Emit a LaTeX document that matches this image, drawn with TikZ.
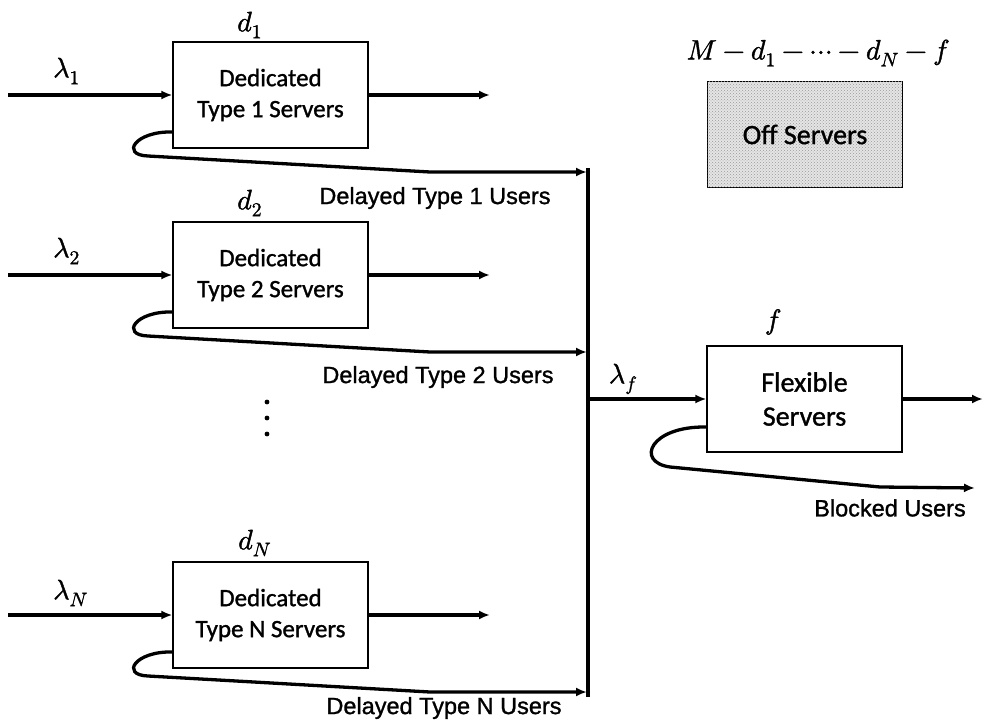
\documentclass[tikz,border=0pt]{standalone}
\usepackage{fontspec}
\usepackage{unicode-math}
\setmainfont{Carlito}[FakeBold=1.2]
\setmathfont{Latin Modern Math}[FakeBold=1.4]
\newfontfamily\arialf{Liberation Sans}[FakeBold=1.2]
\usetikzlibrary{arrows.meta,calc,patterns}
\begin{document}
\begin{tikzpicture}[x=1pt,y=-1pt,
  thk/.style={line width=3.3pt},
  arr/.style={thk,-{Latex[length=11pt,width=9pt]}},
  srv/.style={draw,line width=1.2pt,minimum width=195pt,minimum height=106pt,inner sep=0pt,align=center,font=\fontsize{25}{31}\selectfont},
  bigsrv/.style={srv,font=\fontsize{28}{34}\selectfont},
  mlab/.style={font=\fontsize{28}{32}\selectfont,inner sep=0pt},
  ulab/.style={font=\arialf\fontsize{23.5}{28}\selectfont,inner sep=0pt}]
\useasboundingbox (0,0) rectangle (985,722);

% server boxes
\node[srv] (b1) at (270.5,95) {Dedicated\\Type 1 Servers};
\node[srv] (b2) at (270.5,275) {Dedicated\\Type 2 Servers};
\node[srv] (bN) at (270.5,615) {Dedicated\\Type N Servers};
\node[bigsrv] (fx) at (804.5,399) {Flexible\\Servers};
\node[bigsrv,fill=black!10,postaction={pattern=crosshatch dots,pattern color=black!40}] (off) at (805,134.5) {Off Servers};

% math labels
\node[mlab,anchor=west] (l1) at (53,71) {$\lambda_1$};
\node[mlab,anchor=west] (l2) at (53,251) {$\lambda_2$};
\node[mlab,anchor=west] (lN) at (53,593) {$\lambda_N$};
\node[mlab,anchor=west] (d1) at (237,25) {$d_1$};
\node[mlab,anchor=west] (d2) at (237,203) {$d_2$};
\node[mlab,anchor=west] (dN) at (238,543) {$d_N$};
\node[mlab] (lf) at (623,379) {$\lambda_f$};
\node[mlab] (fl) at (773,322) {$f$};
\node[mlab] (ml) at (818,53) {$M-d_1-\cdots-d_N-f$};

% user labels
\node[ulab] (u1) at (435,198) {Delayed Type 1 Users};
\node[ulab] (u2) at (438,377) {Delayed Type 2 Users};
\node[ulab] (uN) at (444,708) {Delayed Type N Users};
\node[ulab] (bu) at (890,508) {Blocked Users};

% coordinates
\coordinate (i1) at (8,95);
\coordinate (i2) at (8,275);
\coordinate (iN) at (8,615);
\coordinate (o1) at (490,95);
\coordinate (o2) at (490,275);
\coordinate (oN) at (490,615);
\coordinate (bt) at (588,168);
\coordinate (bb) at (588,697);
\coordinate (c1) at (587,172);
\coordinate (c2) at (587,352);
\coordinate (cN) at (587,692);
\coordinate (fin) at (588,399);
\coordinate (fo) at (983,399);
\coordinate (bl) at (975,488);

% inputs and outputs
\draw[arr] (i1) -- (b1);
\draw[arr] (i2) -- (b2);
\draw[arr] (iN) -- (bN);
\draw[arr] (b1) -- (o1);
\draw[arr] (b2) -- (o2);
\draw[arr] (bN) -- (oN);

% loops
\draw[arr] ($(b1.west)+(0,37)$) .. controls (135,131) and (120,155) .. (148,156) -- (430,172) -- (c1);
\draw[arr] ($(b2.west)+(0,37)$) .. controls (135,311) and (120,335) .. (148,336) -- (430,352) -- (c2);
\draw[arr] ($(bN.west)+(0,37)$) .. controls (135,651) and (120,675) .. (148,676) -- (430,692) -- (cN);

% bus
\draw[thk] (bt) -- (bb);
\draw[arr] (fin) -- (fx);
\draw[arr] (fx) -- (fo);
\draw[arr] ($(fx.west)+(0,28)$) .. controls (650,426) and (635,462) .. (670,467) -- (880,487) -- (bl);

% dots
\fill (267,402) circle (2.4);
\fill (267,418) circle (2.4);
\fill (267,434) circle (2.4);
\end{tikzpicture}
\end{document}
